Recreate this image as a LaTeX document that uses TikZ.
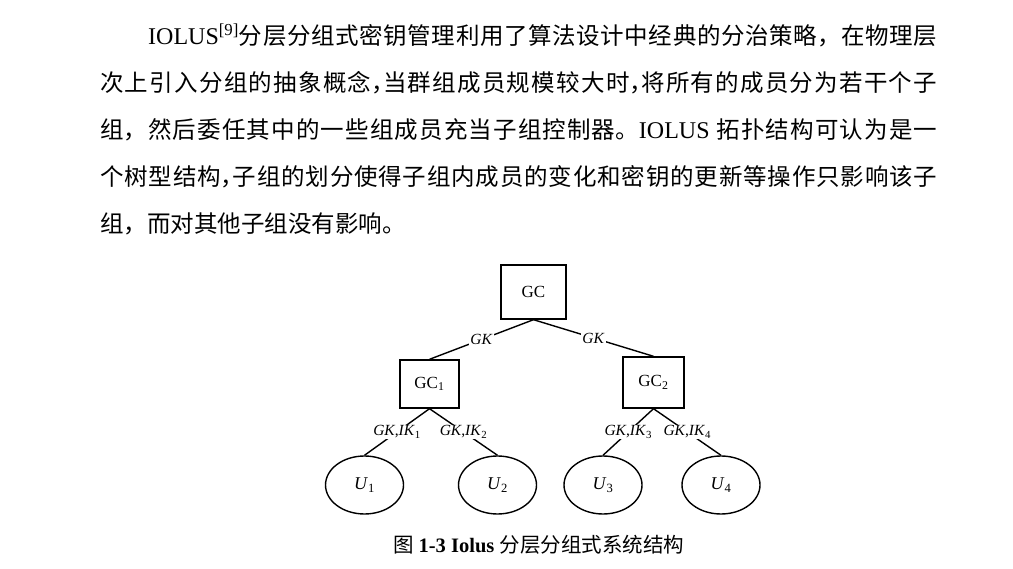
\documentclass[tikz,border=0pt]{standalone}
\usepackage{fontspec}
\setmainfont{Liberation Serif}
\newfontfamily\cjk{Noto Sans CJK SC}
\XeTeXlinebreaklocale "zh"
\XeTeXlinebreakskip=0pt plus 4pt
\hbadness=10000
\newcommand{\hc}{\makebox[0.5em][l]{，}}
\newcommand{\jline}[2]{\parbox[t]{#1}{\parindent=0pt\parfillskip=0pt\relax #2}}
\usetikzlibrary{shapes.geometric}
\tikzset{
  body/.style={anchor=base west, inner sep=0pt, font=\fontsize{24}{28}\selectfont},
  ctrl/.style={draw, line width=1.4pt, inner sep=0pt, font=\fontsize{17}{20}\selectfont},
  member/.style={draw, ellipse, line width=1.4pt, inner sep=0pt, minimum width=78pt, minimum height=58pt, font=\fontsize{18}{20}\selectfont},
  conn/.style={line width=1.4pt},
  klabel/.style={midway, fill=white, inner sep=1pt, font=\fontsize{15.5}{17}\selectfont},
}
\begin{document}
\begin{tikzpicture}[x=1pt,y=-1pt]
\useasboundingbox (0,0) rectangle (1013,569);
% paragraph
\node[body] (l1) at (148,45) {\jline{789pt}{IOLUS\textsuperscript{[9]}{\cjk\fontsize{23.5}{28}\selectfont 分层分组式密钥管理利用了算法设计中经典的分治策略，在物理层}}};
\node[body] (l2) at (100,92) {\jline{837pt}{\cjk\fontsize{23.5}{28}\selectfont 次上引入分组的抽象概念\hc 当群组成员规模较大时\hc 将所有的成员分为若干个子}};
\node[body] (l3) at (100,139) {\jline{837pt}{{\cjk\fontsize{23.5}{28}\selectfont 组，然后委任其中的一些组成员充当子组控制器。}IOLUS {\cjk\fontsize{23.5}{28}\selectfont 拓扑结构可认为是一}}};
\node[body] (l4) at (100,186) {\jline{837pt}{\cjk\fontsize{23.5}{28}\selectfont 个树型结构\hc 子组的划分使得子组内成员的变化和密钥的更新等操作只影响该子}};
\node[body] (l5) at (100,233) {\cjk\fontsize{23.5}{28}\selectfont 组，而对其他子组没有影响。};
% tree
\node[ctrl, minimum width=65pt, minimum height=54pt] (gc) at (533.5,292) {GC};
\node[ctrl, minimum width=59pt, minimum height=48pt] (gc1) at (429.5,384) {GC\textsubscript{1}};
\node[ctrl, minimum width=61pt, minimum height=51pt] (gc2) at (653.5,382.5) {GC\textsubscript{2}};
\node[member] (u1) at (364.5,485) {\textit{U}\textsubscript{1}};
\node[member] (u2) at (497.5,485) {\textit{U}\textsubscript{2}};
\node[member] (u3) at (603,485) {\textit{U}\textsubscript{3}};
\node[member] (u4) at (721,485) {\textit{U}\textsubscript{4}};
\draw[conn] (gc.south) -- node[klabel] {\textit{GK}} (gc1.north);
\draw[conn] (gc.south) -- node[klabel] {\textit{GK}} (gc2.north);
\draw[conn] (gc1.south) -- node[klabel] {\textit{GK},\textit{IK}\textsubscript{1}} (u1.north);
\draw[conn] (gc1.south) -- node[klabel] {\textit{GK},\textit{IK}\textsubscript{2}} (u2.north);
\draw[conn] (gc2.south) -- node[klabel] {\textit{GK},\textit{IK}\textsubscript{3}} (u3.north);
\draw[conn] (gc2.south) -- node[klabel] {\textit{GK},\textit{IK}\textsubscript{4}} (u4.north);
% caption
\node[inner sep=0pt, font=\fontsize{20.5}{24}\selectfont] (cap) at (538.5,545) {{\cjk 图} \textbf{1-3 Iolus} {\cjk 分层分组式系统结构}};
\end{tikzpicture}
\end{document}
